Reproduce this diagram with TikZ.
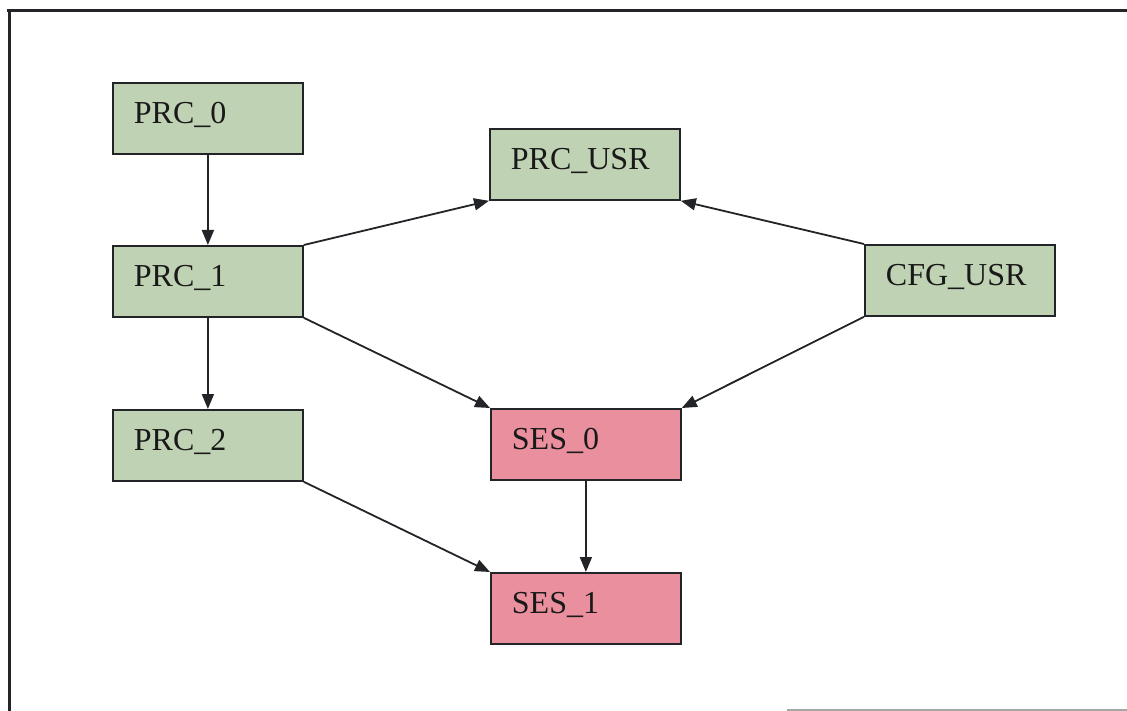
\documentclass[tikz,border=0pt]{standalone}
\usepackage{fontspec}
\setmainfont{Liberation Serif}
\usetikzlibrary{arrows.meta}

\definecolor{procgreen}{RGB}{192,210,180}
\definecolor{sesspink}{RGB}{233,143,158}
\definecolor{inkline}{RGB}{34,36,40}

\tikzset{
  block/.style={
    draw=inkline, line width=1.8pt, rectangle, anchor=north west,
    text width=148pt, inner xsep=21pt, inner ysep=0pt,
    minimum height=71pt, align=left,
    text height=20pt, text depth=10pt,
    font=\fontsize{32}{38}\selectfont, text=black!90
  },
  procbox/.style={block, fill=procgreen},
  sessbox/.style={block, fill=sesspink},
  link/.style={draw=inkline, line width=1.8pt,
    -{Triangle[length=15pt,width=12pt]}},
  frameline/.style={draw=inkline, line width=3pt}
}

\begin{document}
\begin{tikzpicture}[x=1pt, y=-1pt]
  \useasboundingbox (0,0) rectangle (1127,711);
  \fill[white] (0,0) rectangle (1127,711);

  % page frame
  \draw[frameline] (7,11) -- (1127,11);
  \draw[frameline] (9.5,11) -- (9.5,711);
  \draw[draw=black!35, line width=2pt] (787,710) -- (1127,710);

  % process blocks
  \node[procbox] (prc0)   at (112,82)  {PRC\_0};
  \node[procbox] (prc1)   at (112,245) {PRC\_1};
  \node[procbox] (prc2)   at (112,409) {PRC\_2};
  \node[procbox] (prcusr) at (489,128) {PRC\_USR};
  \node[procbox] (cfgusr) at (864,244) {CFG\_USR};

  % session blocks
  \node[sessbox] (ses0) at (490,408) {SES\_0};
  \node[sessbox] (ses1) at (490,572) {SES\_1};

  % dependencies
  \draw[link] (prc0.south) -- (prc1.north);
  \draw[link] (prc1.south) -- (prc2.north);
  \draw[link] (prc1.north east) -- (prcusr.south west);
  \draw[link] (prc1.south east) -- (ses0.north west);
  \draw[link] (cfgusr.north west) -- (prcusr.south east);
  \draw[link] (cfgusr.south west) -- (ses0.north east);
  \draw[link] (prc2.south east) -- (ses1.north west);
  \draw[link] (ses0.south) -- (ses1.north);
\end{tikzpicture}
\end{document}
